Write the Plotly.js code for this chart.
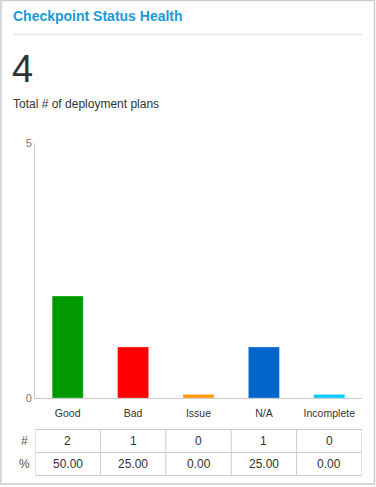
<!DOCTYPE html>
<html>
<head>
<meta charset="utf-8">
<script src="https://cdn.plot.ly/plotly-3.0.1.min.js"></script>
<style>
html,body{margin:0;padding:0;background:#fff;}
#chart{width:376px;height:487px;}
</style>
</head>
<body>
<div id="chart"></div>
<script>
// ---- data ----
const categories = ["Good", "Bad", "Issue", "N/A", "Incomplete"];
const counts = [2, 1, 0, 1, 0];
const percents = ["50.00", "25.00", "0.00", "25.00", "0.00"];
const barColors = ["#009900", "#ff0000", "#ff9900", "#0066cc", "#00ccff"];
const totalPlans = 4;
const yTicks = [0, 5];
const rowLabels = ["#", "%"];

// ---- geometry helpers (pixel -> paper) ----
const W = 376, H = 487;
const L = 35, R = 362, T = 143, B = 398;
const px = x => (x - L) / (R - L);
const py = y => (B - y) / (B - T);

// zero-count bars are drawn as a thin stub, as in the original widget
const MIN_STUB = 0.07;
const shown = counts.map(v => v > 0 ? v : MIN_STUB);

const FONT = "Liberation Sans, Arial, sans-serif";

const trace = {
  type: "bar",
  x: categories,
  y: shown,
  marker: {color: barColors, line: {color: "rgba(255,255,255,0.6)", width: 0.5}},
  width: 0.475,
  hoverinfo: "skip"
};

const shapes = [];
const annotations = [];

// card border
shapes.push({type: "rect", xref: "paper", yref: "paper",
  x0: px(1), x1: px(374.5), y0: py(484), y1: py(0.5),
  line: {color: "#cccccc", width: 1.5}, fillcolor: "rgba(0,0,0,0)", layer: "below"});
// separator under title
shapes.push({type: "line", xref: "paper", yref: "paper",
  x0: px(13), x1: px(362), y0: py(34.5), y1: py(34.5),
  line: {color: "#e6e6e6", width: 1.5}});

// header texts
annotations.push({xref: "paper", yref: "paper", x: px(11), y: py(15.5), xanchor: "left", yanchor: "middle",
  text: "<b>Checkpoint Status Health</b>", showarrow: false,
  font: {family: FONT, size: 14, color: "#1a9bd6"}});
annotations.push({xref: "paper", yref: "paper", x: px(10), y: py(69), xanchor: "left", yanchor: "middle",
  text: String(totalPlans), showarrow: false,
  font: {family: FONT, size: 38, color: "#333333"}});
annotations.push({xref: "paper", yref: "paper", x: px(11), y: py(103.5), xanchor: "left", yanchor: "middle",
  text: "Total # of deployment plans", showarrow: false,
  font: {family: FONT, size: 12, color: "#333333"}});

// table
const tTop = 429.5, tMid = 452.5, tBot = 475.5;
[tTop, tMid, tBot].forEach(y => shapes.push({type: "line", xref: "x", yref: "paper",
  x0: -0.5, x1: categories.length - 0.5, y0: py(y), y1: py(y),
  line: {color: "#cccccc", width: 1}}));
for (let i = 0; i <= categories.length; i++) {
  shapes.push({type: "line", xref: "x", yref: "paper",
    x0: i - 0.5, x1: i - 0.5, y0: py(tTop), y1: py(tBot),
    line: {color: "#cccccc", width: 1}});
}
const rowY = [(tTop + tMid) / 2, (tMid + tBot) / 2];
rowLabels.forEach((lab, r) => annotations.push({xref: "paper", yref: "paper",
  x: px(24), y: py(rowY[r]), xanchor: "center", yanchor: "middle", text: lab, showarrow: false,
  font: {family: FONT, size: 12, color: "#555555"}}));
categories.forEach((c, i) => {
  annotations.push({xref: "x", yref: "paper", x: c, y: py(rowY[0]), xanchor: "center", yanchor: "middle",
    text: String(counts[i]), showarrow: false, font: {family: FONT, size: 12, color: "#333333"}});
  annotations.push({xref: "x", yref: "paper", x: c, y: py(rowY[1]), xanchor: "center", yanchor: "middle",
    text: percents[i], showarrow: false, font: {family: FONT, size: 12, color: "#333333"}});
});

const layout = {
  width: W, height: H,
  margin: {l: L, r: W - R, t: T, b: H - B, pad: 0},
  paper_bgcolor: "#ffffff", plot_bgcolor: "#ffffff",
  showlegend: false,
  font: {family: FONT},
  bargap: 0.5,
  xaxis: {
    type: "category", range: [-0.5, categories.length - 0.5],
    showline: true, linecolor: "#cccccc", linewidth: 1,
    showgrid: false, zeroline: false, ticks: "", ticklen: 0,
    ticklabelstandoff: 5,
    tickfont: {family: FONT, size: 10.5, color: "#333333"},
    fixedrange: true
  },
  yaxis: {
    range: [0, 5], tickvals: yTicks, ticktext: yTicks.map(String),
    showline: true, linecolor: "#cccccc", linewidth: 1,
    showgrid: true, gridcolor: "#cccccc", griddash: "dot", gridwidth: 1,
    zeroline: false, ticks: "", ticklen: 0,
    tickfont: {family: FONT, size: 11, color: "#777777"},
    fixedrange: true
  },
  shapes: shapes,
  annotations: annotations
};

Plotly.newPlot("chart", [trace], layout, {displayModeBar: false, staticPlot: true});
</script>
</body>
</html>
